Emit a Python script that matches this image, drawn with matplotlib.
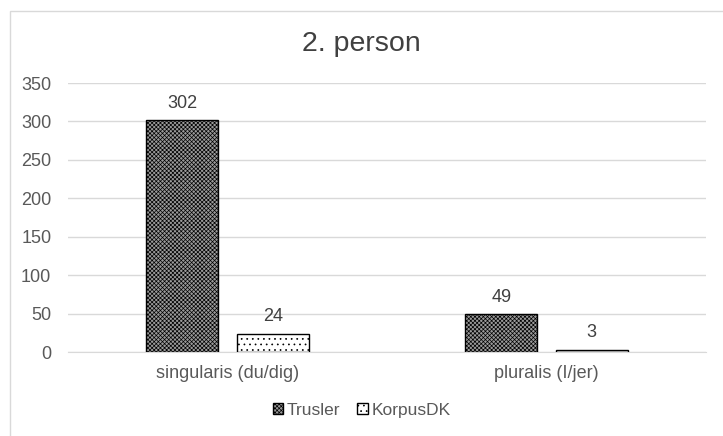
import matplotlib.pyplot as plt
import matplotlib.patches as mpatches
import numpy as np

plt.rcParams['font.family'] = ['Liberation Sans', 'DejaVu Sans']
plt.rcParams['hatch.linewidth'] = 0.5

categories = ["singularis (du/dig)", "pluralis (I/jer)"]
series_names = ["Trusler", "KorpusDK"]
trusler = [302, 49]
korpus = [24, 3]
yticks = [0, 50, 100, 150, 200, 250, 300, 350]

fig = plt.figure(figsize=(7.23, 4.36), dpi=100)
# outer chart border
fig.patches.append(mpatches.Rectangle((10/723, -0.1), 1.0, (436-11)/436 + 0.1,
                                      transform=fig.transFigure, fill=False,
                                      edgecolor='#d9d9d9', linewidth=1.0))
ax = fig.add_axes([68/723, 1-352/436, (706-68)/723, (352-83)/436])

x = np.arange(len(categories))
w = 0.226
off = 0.142
b1 = ax.bar(x - off, trusler, w, facecolor='#9a9a9a', edgecolor='black',
            hatch='xxxxxxxx', linewidth=1.0, label=series_names[0], zorder=3)
b2 = ax.bar(x + off, korpus, w, facecolor='white', edgecolor='black',
            hatch='...', linewidth=1.0, label=series_names[1], zorder=3)

for bars, vals in ((b1, trusler), (b2, korpus)):
    for r, v in zip(bars, vals):
        ax.annotate(str(v), (r.get_x() + r.get_width()/2, v), xytext=(0, 6),
                    textcoords='offset points', ha='center', va='bottom',
                    fontsize=13, color='#404040')

ax.set_xlim(-0.5, 1.5)
ax.set_ylim(0, 350)
ax.set_yticks(yticks)
ax.set_xticks(x)
ax.set_xticklabels(categories)
ax.tick_params(axis='both', length=0, labelsize=13, labelcolor='#595959')
ax.tick_params(axis='y', pad=12)
ax.tick_params(axis='x', pad=9)
ax.grid(axis='y', color='#d9d9d9', linewidth=1.0, zorder=0)
for s in ['top', 'right', 'left']:
    ax.spines[s].set_visible(False)
ax.spines['bottom'].set_color('#d9d9d9')
ax.set_axisbelow(True)

fig.text(0.5, 1-44/436, "2. person", ha='center', va='center', fontsize=20.5, color='#404040')

leg = fig.legend(handles=[b1, b2], loc='center', bbox_to_anchor=(0.5, 1-410/436), ncol=2,
                 frameon=False, fontsize=12.5, handlelength=0.6, handleheight=0.6,
                 handletextpad=0.2, columnspacing=1.0, labelcolor='#595959')

fig.savefig('out.png', dpi=100)
